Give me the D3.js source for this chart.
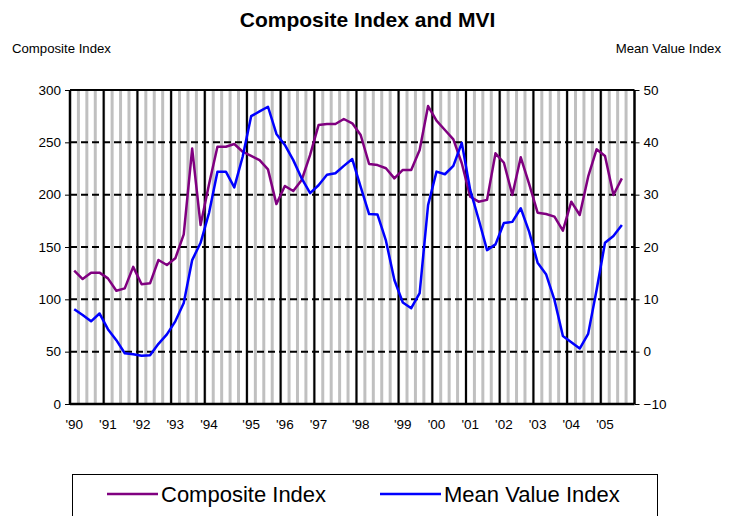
<!DOCTYPE html>
<html><head><meta charset="utf-8">
<script src="https://cdn.jsdelivr.net/npm/d3@7"></script>
<style>body{margin:0;background:#fff;} svg{display:block;font-family:Arial,"Liberation Sans",sans-serif;}</style>
</head><body>
<svg id="c" width="735" height="516"></svg>
<script>
// Year label of the first observation of each year (category index -> label)
const yearStarts = [0, 4, 8, 12, 16, 21, 25, 29, 34, 39, 43, 47, 51, 55, 59, 63];
const yearLabels = ["'90","'91","'92","'93","'94","'95","'96","'97","'98","'99","'00","'01","'02","'03","'04","'05"];
const nCategories = 67;
const composite = [127.4,119.4,125.5,125.5,120,108.2,110.5,131,114.4,115.3,137.6,132.8,139.2,162,244,171,
  210,245.8,245.8,248.4,241,237,233,224.2,191,208.3,203.5,214,238,266.5,267.5,267.5,272.3,268.2,257,229.3,
  228.3,225.2,215.6,223.6,223.6,242.7,284.7,270.7,261.8,252.9,230,198,193.3,195,239.5,230.5,199.7,235.7,
  210,182.8,181.5,179,165.6,193.3,180.6,217.2,243.3,237,199.7,215.6];
const mvi = [8.1,7.0,5.8,7.3,4.3,2.2,-0.3,-0.5,-0.8,-0.7,1.5,3.3,5.8,9.3,17.5,20.8,
  26.5,34.4,34.4,31.4,37.3,45,45.9,46.8,41.6,39.5,36.6,33.1,30.3,31.8,33.8,34.1,35.5,36.8,31.5,26.3,
  26.2,21.2,13.7,9.4,8.3,11.2,28,34.4,33.9,35.5,39.9,30.9,25.3,19.4,20.5,24.6,24.8,27.4,22.9,17.0,
  14.8,9.9,3.0,1.8,0.6,3.4,11.8,20.8,22.1,24.2];
const leftTicks = [0,50,100,150,200,250,300];
const rightTicks = [-10,0,10,20,30,40,50];
const seriesNames = ["Composite Index","Mean Value Index"];
const colors = ["#800080","#0000ff"];

const svg = d3.select("#c");
const L = 70, R = 634.5, T = 90, B = 404;
const x = d3.scaleBand().domain(d3.range(nCategories)).range([L, R]).paddingInner(0).paddingOuter(0);
const step = x.step();
const cx = i => x(i) + step/2;
const yL = d3.scaleLinear().domain([0,300]).range([B,T]);
const yR = d3.scaleLinear().domain([-10,50]).range([B,T]);

// gray category gridlines
const g = svg.append("g");
g.selectAll("line.gray").data(d3.range(1, nCategories)).join("line")
  .attr("x1", i => x(i)).attr("x2", i => x(i)).attr("y1", T).attr("y2", B)
  .attr("stroke", "#c0c0c0").attr("stroke-width", 3);
// black year lines
g.selectAll("line.yr").data(yearStarts.slice(1)).join("line")
  .attr("x1", i => x(i)).attr("x2", i => x(i)).attr("y1", T).attr("y2", B)
  .attr("stroke", "#000").attr("stroke-width", 2);
// dashed horizontal gridlines
g.selectAll("line.h").data(leftTicks.filter(t => t>0 && t<300)).join("line")
  .attr("x1", L).attr("x2", R).attr("y1", d => yL(d)).attr("y2", d => yL(d))
  .attr("stroke", "#000").attr("stroke-width", 2).attr("stroke-dasharray", "7,4");

// frame
svg.append("line").attr("x1", L).attr("x2", R).attr("y1", T).attr("y2", T).attr("stroke","#000").attr("stroke-width",2);
svg.append("line").attr("x1", L).attr("x2", R).attr("y1", B).attr("y2", B).attr("stroke","#000").attr("stroke-width",2.5);
svg.append("line").attr("x1", L).attr("x2", L).attr("y1", T).attr("y2", B).attr("stroke","#000").attr("stroke-width",2.5);
svg.append("line").attr("x1", R).attr("x2", R).attr("y1", T).attr("y2", B).attr("stroke","#000").attr("stroke-width",2.5);

// axes
const axL = svg.append("g").attr("transform", `translate(${L},0)`)
  .call(d3.axisLeft(yL).tickValues(leftTicks).tickSize(5).tickPadding(4));
const axR = svg.append("g").attr("transform", `translate(${R},0)`)
  .call(d3.axisRight(yR).tickValues(rightTicks).tickSize(5).tickPadding(4));
[axL, axR].forEach(a => {
  a.select(".domain").remove();
  a.selectAll("line").attr("stroke","#000");
  a.selectAll("text").attr("font-size", 13.5).attr("fill","#000").attr("font-family","Arial, 'Liberation Sans', sans-serif");
});
// x labels
svg.append("g").selectAll("text").data(yearStarts).join("text")
  .attr("x", (d,i) => cx(d)).attr("y", 429).attr("text-anchor","middle")
  .attr("font-size", 13.5).text((d,i) => yearLabels[i]);

// lines
const lineL = d3.line().x((d,i) => cx(i)).y(d => yL(d));
const lineR = d3.line().x((d,i) => cx(i)).y(d => yR(d));
svg.append("path").attr("d", lineL(composite)).attr("fill","none").attr("stroke",colors[0]).attr("stroke-width",2.5).attr("stroke-linejoin","round");
svg.append("path").attr("d", lineR(mvi)).attr("fill","none").attr("stroke",colors[1]).attr("stroke-width",2.5).attr("stroke-linejoin","round");

// titles
svg.append("text").attr("x", 367.5).attr("y", 27).attr("text-anchor","middle").attr("font-size",21).attr("font-weight","bold").text("Composite Index and MVI");
svg.append("text").attr("x", 12).attr("y", 53).attr("font-size",13.2).text("Composite Index");
svg.append("text").attr("x", 721).attr("y", 53).attr("text-anchor","end").attr("font-size",13.2).text("Mean Value Index");

// legend
svg.append("rect").attr("x", 72.5).attr("y", 474.5).attr("width", 585).attr("height", 60).attr("fill","#fff").attr("stroke","#000").attr("stroke-width",1);
const leg = [{x0:107,x1:158,tx:161},{x0:380,x1:441,tx:444}];
leg.forEach((l,i) => {
  svg.append("line").attr("x1", l.x0).attr("x2", l.x1).attr("y1", 494).attr("y2", 494).attr("stroke", colors[i]).attr("stroke-width",2.5);
  svg.append("text").attr("x", l.tx).attr("y", 502).attr("font-size",22).text(seriesNames[i]);
});
</script>
</body></html>
